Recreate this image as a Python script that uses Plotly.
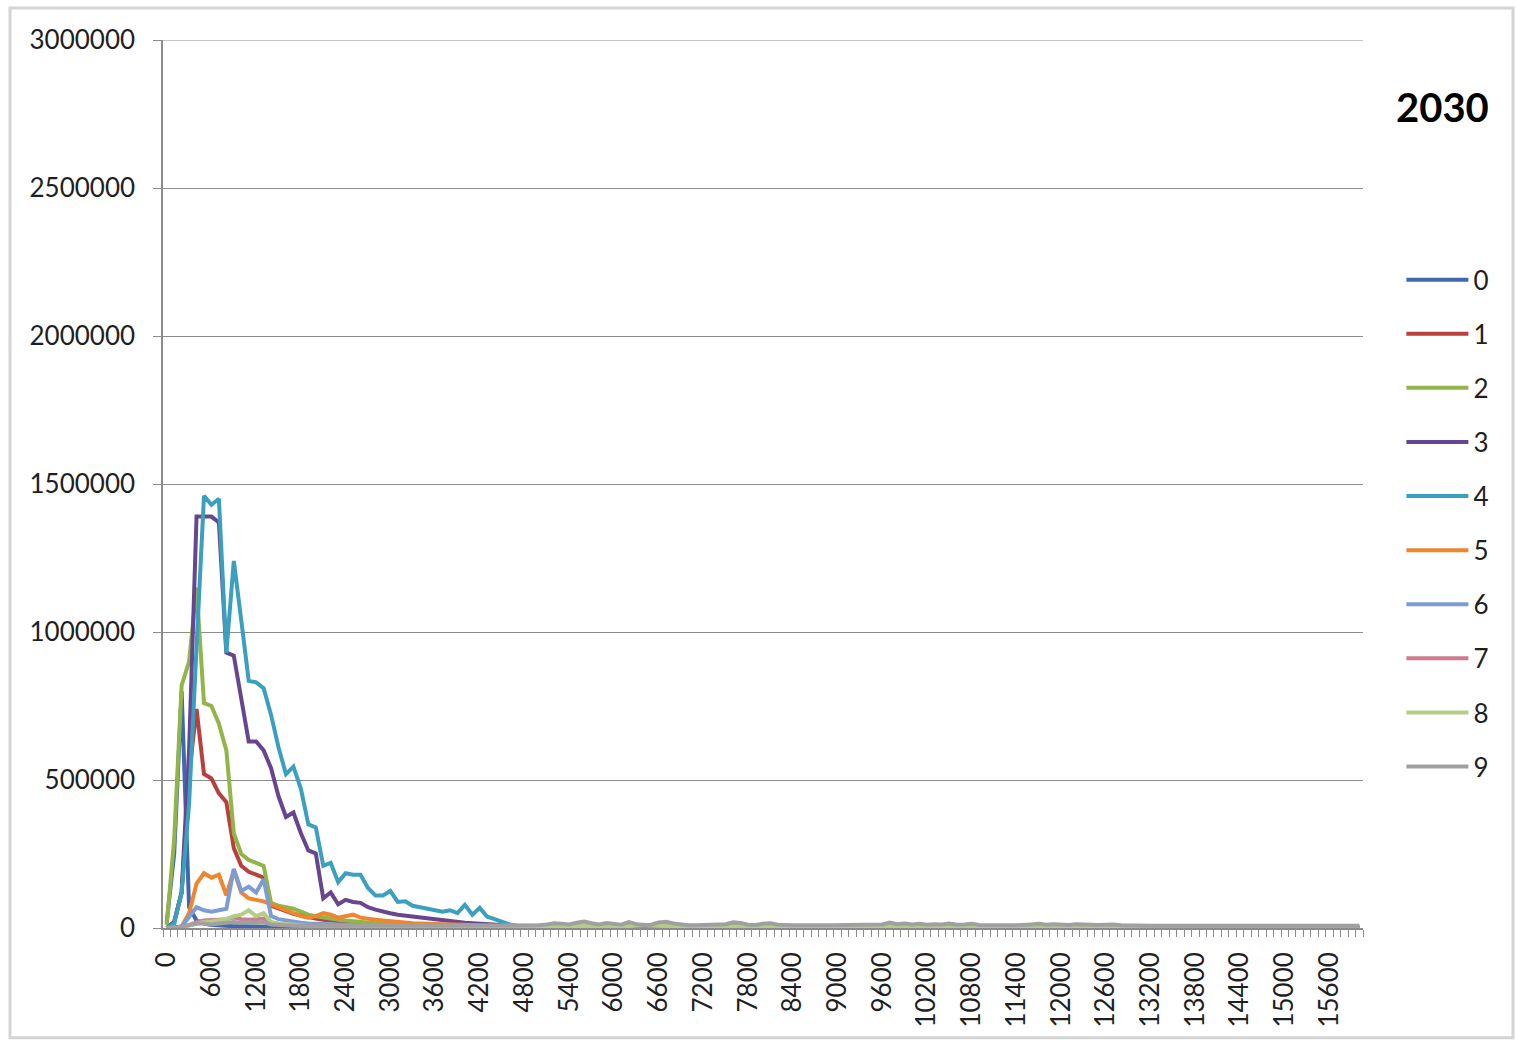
import plotly.graph_objects as go

# Category axis: 0 .. 16000 in steps of 100
categories = list(range(0, 16001, 100))
tick_labels = [str(c) for c in categories[::6]]

series_names = ["0", "1", "2", "3", "4", "5", "6", "7", "8", "9"]
series_colors = ["#3F68AE", "#B8403D", "#92B548", "#67468F", "#3B9FBF",
                 "#F0852E", "#7E9CD4", "#D07A8E", "#B4CD84", "#A0A0A0"]

s0 = [20000, 250000, 800000, 70000, 25000, 15000, 10000, 8000, 7000, 6000,
      6000, 5000, 5000, 5000, 4000, 4000, 4000, 3000, 3000, 3000,
      3000, 3000, 3000, 2000, 2000, 2000, 2000, 2000, 2000, 2000,
      2000, 2000, 2000, 2000, 2000, 2000, 2000, 2000, 2000, 2000,
      2000, 2000, 2000, 2000, 2000, 2000, 2000, 2000, 2000, 2000,
      2000, 2000, 2000, 2000, 2000, 2000, 2000, 2000, 2000, 2000,
      1000, 1000, 1000, 1000, 1000, 1000, 1000, 1000, 1000, 1000,
      1000, 1000, 1000, 1000, 1000, 1000, 1000, 1000, 1000, 1000,
      1000, 1000, 1000, 1000, 1000, 1000, 1000, 1000, 1000, 1000,
      1000, 1000, 1000, 1000, 1000, 1000, 1000, 1000, 1000, 1000,
      1000, 1000, 1000, 1000, 1000, 1000, 1000, 1000, 1000, 1000,
      1000, 1000, 1000, 1000, 1000, 1000, 1000, 1000, 1000, 1000,
      1000, 1000, 1000, 1000, 1000, 1000, 1000, 1000, 1000, 1000,
      1000, 1000, 1000, 1000, 1000, 1000, 1000, 1000, 1000, 1000,
      1000, 1000, 1000, 1000, 1000, 1000, 1000, 1000, 1000, 1000,
      1000, 1000, 1000, 1000, 1000, 1000, 1000, 1000, 1000, 1000,
      1000]

s1 = [0, 20000, 120000, 520000, 740000, 520000, 505000, 455000, 425000, 270000,
      210000, 190000, 180000, 170000, 75000, 65000, 55000, 48000, 42000, 36000,
      32000, 28000, 25000, 22000, 20000, 18000, 16000, 14000, 12000, 10000,
      9000, 8000, 8000, 7000, 7000, 6000, 6000, 5000, 5000, 5000,
      4000, 4000, 4000, 4000, 3000, 3000, 3000, 3000, 3000, 3000,
      3000, 3000, 3000, 3000, 3000, 3000, 3000, 3000, 2000, 2000,
      2000, 2000, 2000, 2000, 2000, 2000, 2000, 2000, 2000, 2000,
      2000, 2000, 2000, 2000, 2000, 2000, 2000, 2000, 2000, 2000,
      2000, 2000, 2000, 2000, 2000, 2000, 2000, 2000, 2000, 2000,
      2000, 2000, 2000, 2000, 2000, 2000, 2000, 2000, 2000, 2000,
      1000, 1000, 1000, 1000, 1000, 1000, 1000, 1000, 1000, 1000,
      1000, 1000, 1000, 1000, 1000, 1000, 1000, 1000, 1000, 1000,
      1000, 1000, 1000, 1000, 1000, 1000, 1000, 1000, 1000, 1000,
      1000, 1000, 1000, 1000, 1000, 1000, 1000, 1000, 1000, 1000,
      1000, 1000, 1000, 1000, 1000, 1000, 1000, 1000, 1000, 1000,
      1000, 1000, 1000, 1000, 1000, 1000, 1000, 1000, 1000, 1000,
      1000]

s2 = [10000, 300000, 820000, 900000, 1150000, 760000, 750000, 690000, 600000, 320000,
      250000, 230000, 220000, 210000, 85000, 75000, 70000, 65000, 55000, 45000,
      40000, 35000, 30000, 28000, 25000, 22000, 20000, 18000, 16000, 14000,
      12000, 11000, 10000, 9000, 9000, 8000, 8000, 7000, 7000, 6000,
      6000, 6000, 5000, 5000, 5000, 5000, 4000, 4000, 4000, 4000,
      4000, 4000, 5000, 6000, 5000, 4000, 4000, 4000, 5000, 4000,
      4000, 4000, 4000, 6000, 7000, 5000, 4000, 4000, 4000, 4000,
      4000, 5000, 6000, 5000, 4000, 4000, 4000, 4000, 4000, 4000,
      4000, 4000, 4000, 4000, 4000, 3000, 3000, 3000, 3000, 3000,
      3000, 3000, 3000, 3000, 3000, 3000, 3000, 3000, 3000, 3000,
      3000, 3000, 3000, 3000, 3000, 3000, 3000, 3000, 3000, 3000,
      3000, 3000, 3000, 3000, 3000, 3000, 3000, 3000, 3000, 3000,
      2000, 2000, 2000, 2000, 2000, 2000, 2000, 2000, 2000, 2000,
      2000, 2000, 2000, 2000, 2000, 2000, 2000, 2000, 2000, 2000,
      2000, 2000, 2000, 2000, 2000, 2000, 2000, 2000, 2000, 2000,
      2000, 2000, 2000, 2000, 2000, 2000, 2000, 2000, 2000, 2000,
      2000]

s3 = [0, 20000, 120000, 600000, 1390000, 1390000, 1390000, 1370000, 930000, 920000,
      780000, 630000, 630000, 600000, 540000, 445000, 375000, 390000, 320000, 262000,
      252000, 100000, 120000, 80000, 95000, 88000, 85000, 70000, 62000, 55000,
      50000, 45000, 42000, 38000, 34000, 30000, 27000, 25000, 22000, 20000,
      18000, 16000, 14000, 12000, 10000, 8000, 6000, 5000, 5000, 4000,
      4000, 4000, 4000, 4000, 4000, 4000, 4000, 3000, 3000, 3000,
      3000, 3000, 3000, 3000, 3000, 3000, 3000, 3000, 3000, 3000,
      3000, 3000, 3000, 3000, 3000, 3000, 3000, 3000, 3000, 3000,
      3000, 3000, 3000, 3000, 3000, 3000, 3000, 3000, 3000, 3000,
      3000, 3000, 3000, 3000, 3000, 3000, 3000, 3000, 3000, 3000,
      2000, 2000, 2000, 2000, 2000, 2000, 2000, 2000, 2000, 2000,
      2000, 2000, 2000, 2000, 2000, 2000, 2000, 2000, 2000, 2000,
      2000, 2000, 2000, 2000, 2000, 2000, 2000, 2000, 2000, 2000,
      2000, 2000, 2000, 2000, 2000, 2000, 2000, 2000, 2000, 2000,
      2000, 2000, 2000, 2000, 2000, 2000, 2000, 2000, 2000, 2000,
      2000, 2000, 2000, 2000, 2000, 2000, 2000, 2000, 2000, 2000,
      2000]

s4 = [0, 15000, 120000, 420000, 950000, 1460000, 1430000, 1450000, 930000, 1240000,
      1040000, 835000, 830000, 810000, 720000, 610000, 520000, 545000, 470000, 350000,
      340000, 210000, 220000, 155000, 185000, 180000, 180000, 135000, 110000, 110000,
      125000, 88000, 90000, 75000, 70000, 65000, 60000, 55000, 60000, 50000,
      78000, 45000, 68000, 38000, 30000, 20000, 12000, 8000, 6000, 5000,
      6000, 5000, 4000, 5000, 4000, 4000, 3000, 4000, 3000, 3000,
      4000, 3000, 3000, 2000, 3000, 2000, 2000, 2000, 2000, 2000,
      2000, 2000, 2000, 2000, 2000, 2000, 2000, 2000, 2000, 2000,
      2000, 2000, 2000, 2000, 2000, 2000, 2000, 2000, 2000, 2000,
      2000, 2000, 2000, 2000, 2000, 2000, 2000, 2000, 2000, 2000,
      1000, 1000, 1000, 1000, 1000, 1000, 1000, 1000, 1000, 1000,
      1000, 1000, 1000, 1000, 1000, 1000, 1000, 1000, 1000, 1000,
      1000, 1000, 1000, 1000, 1000, 1000, 1000, 1000, 1000, 1000,
      1000, 1000, 1000, 1000, 1000, 1000, 1000, 1000, 1000, 1000,
      1000, 1000, 1000, 1000, 1000, 1000, 1000, 1000, 1000, 1000,
      1000, 1000, 1000, 1000, 1000, 1000, 1000, 1000, 1000, 1000,
      1000]

s5 = [0, 0, 5000, 50000, 150000, 185000, 170000, 180000, 110000, 195000,
      120000, 100000, 95000, 90000, 80000, 70000, 60000, 50000, 40000, 35000,
      40000, 50000, 45000, 35000, 40000, 45000, 35000, 30000, 28000, 25000,
      22000, 20000, 18000, 16000, 15000, 14000, 13000, 12000, 11000, 10000,
      10000, 9000, 9000, 9000, 8000, 8000, 8000, 8000, 8000, 8000,
      8000, 8000, 7000, 7000, 7000, 7000, 7000, 7000, 7000, 7000,
      8000, 9000, 8000, 7000, 7000, 7000, 7000, 7000, 6000, 6000,
      6000, 6000, 6000, 6000, 6000, 6000, 6000, 6000, 6000, 6000,
      6000, 6000, 6000, 6000, 6000, 6000, 6000, 6000, 6000, 6000,
      6000, 6000, 6000, 6000, 6000, 6000, 6000, 6000, 5000, 5000,
      5000, 5000, 5000, 5000, 5000, 5000, 5000, 5000, 5000, 5000,
      5000, 5000, 5000, 5000, 5000, 5000, 5000, 5000, 5000, 5000,
      4000, 4000, 4000, 4000, 4000, 4000, 4000, 4000, 4000, 4000,
      4000, 4000, 4000, 4000, 4000, 4000, 4000, 4000, 4000, 4000,
      4000, 4000, 4000, 4000, 4000, 4000, 4000, 4000, 4000, 4000,
      4000, 4000, 4000, 4000, 4000, 4000, 4000, 4000, 4000, 4000,
      4000]

s6 = [0, 0, 5000, 40000, 70000, 60000, 55000, 60000, 65000, 200000,
      125000, 140000, 120000, 165000, 40000, 30000, 25000, 20000, 18000, 15000,
      14000, 12000, 11000, 10000, 9000, 9000, 8000, 8000, 7000, 7000,
      6000, 6000, 6000, 5000, 5000, 5000, 5000, 5000, 4000, 4000,
      4000, 4000, 4000, 4000, 4000, 4000, 4000, 4000, 4000, 4000,
      4000, 4000, 4000, 4000, 4000, 4000, 4000, 4000, 4000, 4000,
      3000, 3000, 3000, 3000, 3000, 3000, 3000, 3000, 3000, 3000,
      3000, 3000, 3000, 3000, 3000, 3000, 3000, 3000, 3000, 3000,
      3000, 3000, 3000, 3000, 3000, 3000, 3000, 3000, 3000, 3000,
      3000, 3000, 3000, 3000, 3000, 3000, 3000, 3000, 3000, 3000,
      3000, 3000, 3000, 3000, 3000, 3000, 3000, 3000, 3000, 3000,
      3000, 3000, 3000, 3000, 3000, 3000, 3000, 3000, 3000, 3000,
      2000, 2000, 2000, 2000, 2000, 2000, 2000, 2000, 2000, 2000,
      2000, 2000, 2000, 2000, 2000, 2000, 2000, 2000, 2000, 2000,
      2000, 2000, 2000, 2000, 2000, 2000, 2000, 2000, 2000, 2000,
      2000, 2000, 2000, 2000, 2000, 2000, 2000, 2000, 2000, 2000,
      2000]

s7 = [0, 0, 2000, 10000, 20000, 25000, 25000, 28000, 30000, 35000,
      30000, 28000, 30000, 32000, 15000, 12000, 10000, 9000, 8000, 7000,
      7000, 6000, 6000, 5000, 5000, 5000, 4000, 4000, 4000, 4000,
      4000, 3000, 3000, 3000, 3000, 3000, 3000, 3000, 3000, 3000,
      3000, 3000, 3000, 3000, 3000, 3000, 3000, 3000, 3000, 3000,
      3000, 3000, 3000, 3000, 3000, 3000, 3000, 3000, 3000, 3000,
      3000, 3000, 3000, 3000, 3000, 3000, 3000, 3000, 3000, 3000,
      3000, 3000, 3000, 3000, 3000, 3000, 3000, 3000, 3000, 3000,
      2000, 2000, 2000, 2000, 2000, 2000, 2000, 2000, 2000, 2000,
      2000, 2000, 2000, 2000, 2000, 2000, 2000, 2000, 2000, 2000,
      2000, 2000, 2000, 2000, 2000, 2000, 2000, 2000, 2000, 2000,
      2000, 2000, 2000, 2000, 2000, 2000, 2000, 2000, 2000, 2000,
      2000, 2000, 2000, 2000, 2000, 2000, 2000, 2000, 2000, 2000,
      2000, 2000, 2000, 2000, 2000, 2000, 2000, 2000, 2000, 2000,
      2000, 2000, 2000, 2000, 2000, 2000, 2000, 2000, 2000, 2000,
      2000, 2000, 2000, 2000, 2000, 2000, 2000, 2000, 2000, 2000,
      2000]

s8 = [0, 0, 2000, 8000, 15000, 20000, 22000, 25000, 30000, 40000,
      45000, 60000, 40000, 50000, 20000, 15000, 12000, 10000, 9000, 8000,
      8000, 7000, 7000, 6000, 6000, 6000, 5000, 5000, 5000, 5000,
      5000, 5000, 5000, 5000, 5000, 5000, 5000, 5000, 5000, 5000,
      5000, 5000, 5000, 5000, 5000, 5000, 5000, 5000, 5000, 6000,
      7000, 6000, 5000, 5000, 5000, 6000, 8000, 7000, 6000, 5000,
      5000, 5000, 6000, 9000, 11000, 9000, 7000, 6000, 5000, 5000,
      5000, 5000, 6000, 8000, 7000, 6000, 5000, 5000, 5000, 6000,
      8000, 7000, 5000, 5000, 5000, 5000, 5000, 5000, 5000, 5000,
      5000, 5000, 5000, 5000, 5000, 5000, 5000, 5000, 5000, 5000,
      5000, 6000, 7000, 6000, 5000, 5000, 5000, 5000, 5000, 5000,
      5000, 5000, 5000, 5000, 5000, 5000, 5000, 5000, 5000, 5000,
      5000, 5000, 5000, 5000, 5000, 5000, 5000, 5000, 5000, 5000,
      4000, 4000, 4000, 4000, 4000, 4000, 4000, 4000, 4000, 4000,
      4000, 4000, 4000, 4000, 4000, 4000, 4000, 4000, 4000, 4000,
      4000, 4000, 4000, 4000, 4000, 4000, 4000, 4000, 4000, 4000,
      4000]

s9 = [0, 2000, 5000, 10000, 15000, 15000, 12000, 15000, 18000, 20000,
      18000, 20000, 18000, 20000, 12000, 10000, 9000, 8000, 8000, 8000,
      7000, 7000, 7000, 7000, 7000, 7000, 7000, 7000, 7000, 7000,
      7000, 7000, 7000, 7000, 7000, 7000, 7000, 7000, 7000, 7000,
      7000, 7000, 7000, 7000, 7000, 7000, 7000, 7000, 7000, 8000,
      9000, 12000, 16000, 14000, 12000, 18000, 22000, 16000, 12000, 17000,
      15000, 11000, 20000, 13000, 10000, 11000, 19000, 21000, 15000, 11000,
      9000, 9000, 10000, 9000, 9000, 13000, 19000, 17000, 11000, 10000,
      14000, 16000, 11000, 9000, 9000, 9000, 10000, 9000, 9000, 9000,
      9000, 9000, 9000, 9000, 9000, 10000, 12000, 18000, 13000, 15000,
      12000, 14000, 11000, 13000, 12000, 15000, 11000, 12000, 14000, 10000,
      9000, 9000, 9000, 9000, 9000, 9000, 12000, 14000, 11000, 13000,
      12000, 10000, 13000, 11000, 12000, 10000, 11000, 12000, 9000, 8000,
      8000, 8000, 8000, 8000, 8000, 8000, 8000, 8000, 8000, 8000,
      8000, 8000, 8000, 8000, 8000, 8000, 8000, 8000, 8000, 8000,
      8000, 8000, 8000, 8000, 8000, 8000, 8000, 8000, 8000, 8000,
      8000]

series_values = [s0, s1, s2, s3, s4, s5, s6, s7, s8, s9]

Y_MAX = 3000000
AXIS_GRAY = "#8C8C8C"
TEXT = "#1F1F1F"
FONT = "Lato"

fig = go.Figure()
for name, color, vals in zip(series_names, series_colors, series_values):
    fig.add_trace(go.Scatter(
        x=categories, y=vals, name=name, mode="lines",
        legendgroup=name,
        line=dict(color=color, width=4),
    ))

fig.update_layout(
    width=1516, height=1040,
    margin=dict(l=163, r=153, t=40, b=112),
    paper_bgcolor="white", plot_bgcolor="white",
    font=dict(family=FONT, size=26, color=TEXT),
    showlegend=True,
    legend=dict(
        x=1.032, xanchor="left", y=0.7565, yanchor="top",
        font=dict(family=FONT, size=26, color=TEXT),
        tracegroupgap=17.3, itemwidth=62,
        bgcolor="rgba(0,0,0,0)",
    ),
    annotations=[dict(
        text="<b>2030</b>", xref="paper", yref="paper",
        x=1.066, y=0.924, xanchor="center", yanchor="middle",
        showarrow=False, font=dict(family=FONT, size=40, color="#000000"),
    )],
    shapes=[
        # outer chart frame
        dict(type="rect", xref="paper", yref="paper",
             x0=-0.1275, x1=1.125, y0=-0.1235, y1=1.036,
             line=dict(color="#D4D4D4", width=3), fillcolor="rgba(0,0,0,0)",
             layer="below"),
        # gridline at the top of the value range
        dict(type="line", xref="paper", yref="y",
             x0=0, x1=1, y0=Y_MAX, y1=Y_MAX,
             line=dict(color=AXIS_GRAY, width=1.2), layer="below"),
    ],
)

fig.update_xaxes(
    range=[-50, 16050],
    tickmode="array", tickvals=categories[::6], ticktext=tick_labels,
    tickangle=-90, ticks="", ticklabelstandoff=12,
    tickfont=dict(family=FONT, size=26, color=TEXT),
    showgrid=False, zeroline=False,
    showline=True, linecolor=AXIS_GRAY, linewidth=1.5,
    minor=dict(tickmode="array", tickvals=[c - 50 for c in categories] + [16050],
               ticks="outside", ticklen=7, tickcolor=AXIS_GRAY, tickwidth=1,
               showgrid=False),
)

fig.update_yaxes(
    range=[0, Y_MAX], dtick=500000, tick0=0,
    tickformat="d",
    ticks="outside", ticklen=8, tickcolor=AXIS_GRAY, tickwidth=1,
    ticklabelstandoff=13,
    tickfont=dict(family=FONT, size=26, color=TEXT),
    showgrid=True, gridcolor=AXIS_GRAY, gridwidth=1.2,
    zeroline=False,
    showline=True, linecolor=AXIS_GRAY, linewidth=1.5,
)

fig.write_html("out.html")
